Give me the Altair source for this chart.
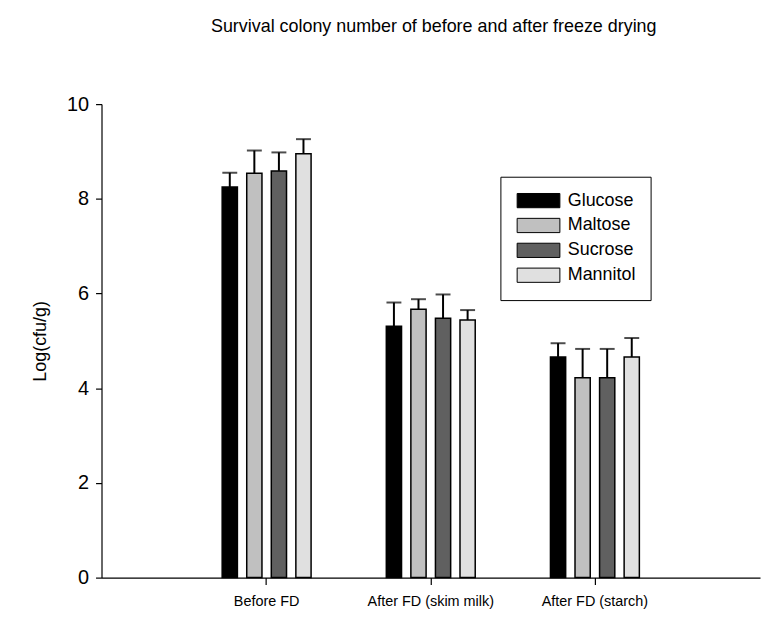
import altair as alt
import pandas as pd

groups = ["Before FD", "After FD (skim milk)", "After FD (starch)"]
sugars = ["Glucose", "Maltose", "Sucrose", "Mannitol"]
colors = ["#000000", "#c0c0c0", "#606060", "#e0e0e0"]

before = [8.25, 8.54, 8.59, 8.95]
before_err = [0.30, 0.48, 0.39, 0.31]
skim = [5.31, 5.67, 5.48, 5.44]
skim_err = [0.50, 0.21, 0.50, 0.21]
starch = [4.66, 4.22, 4.22, 4.66]
starch_err = [0.29, 0.61, 0.61, 0.40]

rows = []
for g, vals, errs in zip(groups, [before, skim, starch], [before_err, skim_err, starch_err]):
    for s, v, e in zip(sugars, vals, errs):
        rows.append({"group": g, "sugar": s, "value": v, "upper": round(v + e, 3)})
df = pd.DataFrame(rows)

FONT = "Liberation Sans"

x = alt.X(
    "group:N",
    sort=groups,
    scale=alt.Scale(paddingInner=0.159, paddingOuter=0.5855),
    axis=alt.Axis(
        title=None, labelAngle=0, labelFontSize=14.5, labelPadding=10,
        tickSize=7, labelFont=FONT, labelColor="black",
    ),
)
xo = alt.XOffset("sugar:N", sort=sugars, scale=alt.Scale(paddingInner=0.38, paddingOuter=1))
y = alt.Y(
    "value:Q",
    scale=alt.Scale(domain=[0, 10], nice=False),
    axis=alt.Axis(
        title="Log(cfu/g)", values=[0, 2, 4, 6, 8, 10], grid=False, tickSize=6,
        labelFontSize=20, labelPadding=7, labelFont=FONT, labelColor="black",
        titleFont=FONT, titleFontSize=18, titleFontWeight="normal", titleColor="black",
        titlePadding=17.5,
    ),
)

color = alt.Color(
    "sugar:N",
    sort=sugars,
    scale=alt.Scale(domain=sugars, range=colors),
    legend=alt.Legend(
        title=None, orient="none", legendX=401, legendY=73,
        symbolType="M-1,-1H5V1H-1Z", symbolSize=205,
        symbolStrokeColor="black", symbolStrokeWidth=1, symbolOpacity=1,
        labelOffset=34.7, labelFontSize=18, labelFont=FONT, labelColor="black",
        padding=15, strokeColor="black", fillColor="white", rowPadding=5,
    ),
)

bars = alt.Chart(df).mark_bar(stroke="black", strokeWidth=1.5, opacity=1).encode(
    x=x, xOffset=xo, y=y, color=color
)
whisk = alt.Chart(df).mark_rule(color="black", strokeWidth=2).encode(
    x=x, xOffset=xo, y="value:Q", y2="upper:Q"
)
caps = alt.Chart(df).mark_tick(color="black", thickness=2, size=15).encode(
    x=x, xOffset=xo, y="upper:Q"
)

chart = (
    alt.layer(bars, whisk, caps)
    .properties(
        width=662, height=476,
        autosize=alt.AutoSizeParams(type="none"),
        padding={"left": 94, "top": 95, "right": 5, "bottom": 45},
        title=alt.TitleParams(
            "Survival colony number of before and after freeze drying",
            font=FONT, fontSize=18, fontWeight="normal", color="black",
            anchor="middle", offset=59, dx=3,
        ),
    )
    .configure_view(stroke=None)
    .configure_axis(domainColor="black", tickColor="black", domainWidth=1.2, tickWidth=1.2)
)

chart.save("out.html", embed_options={"renderer": "svg", "actions": False})
